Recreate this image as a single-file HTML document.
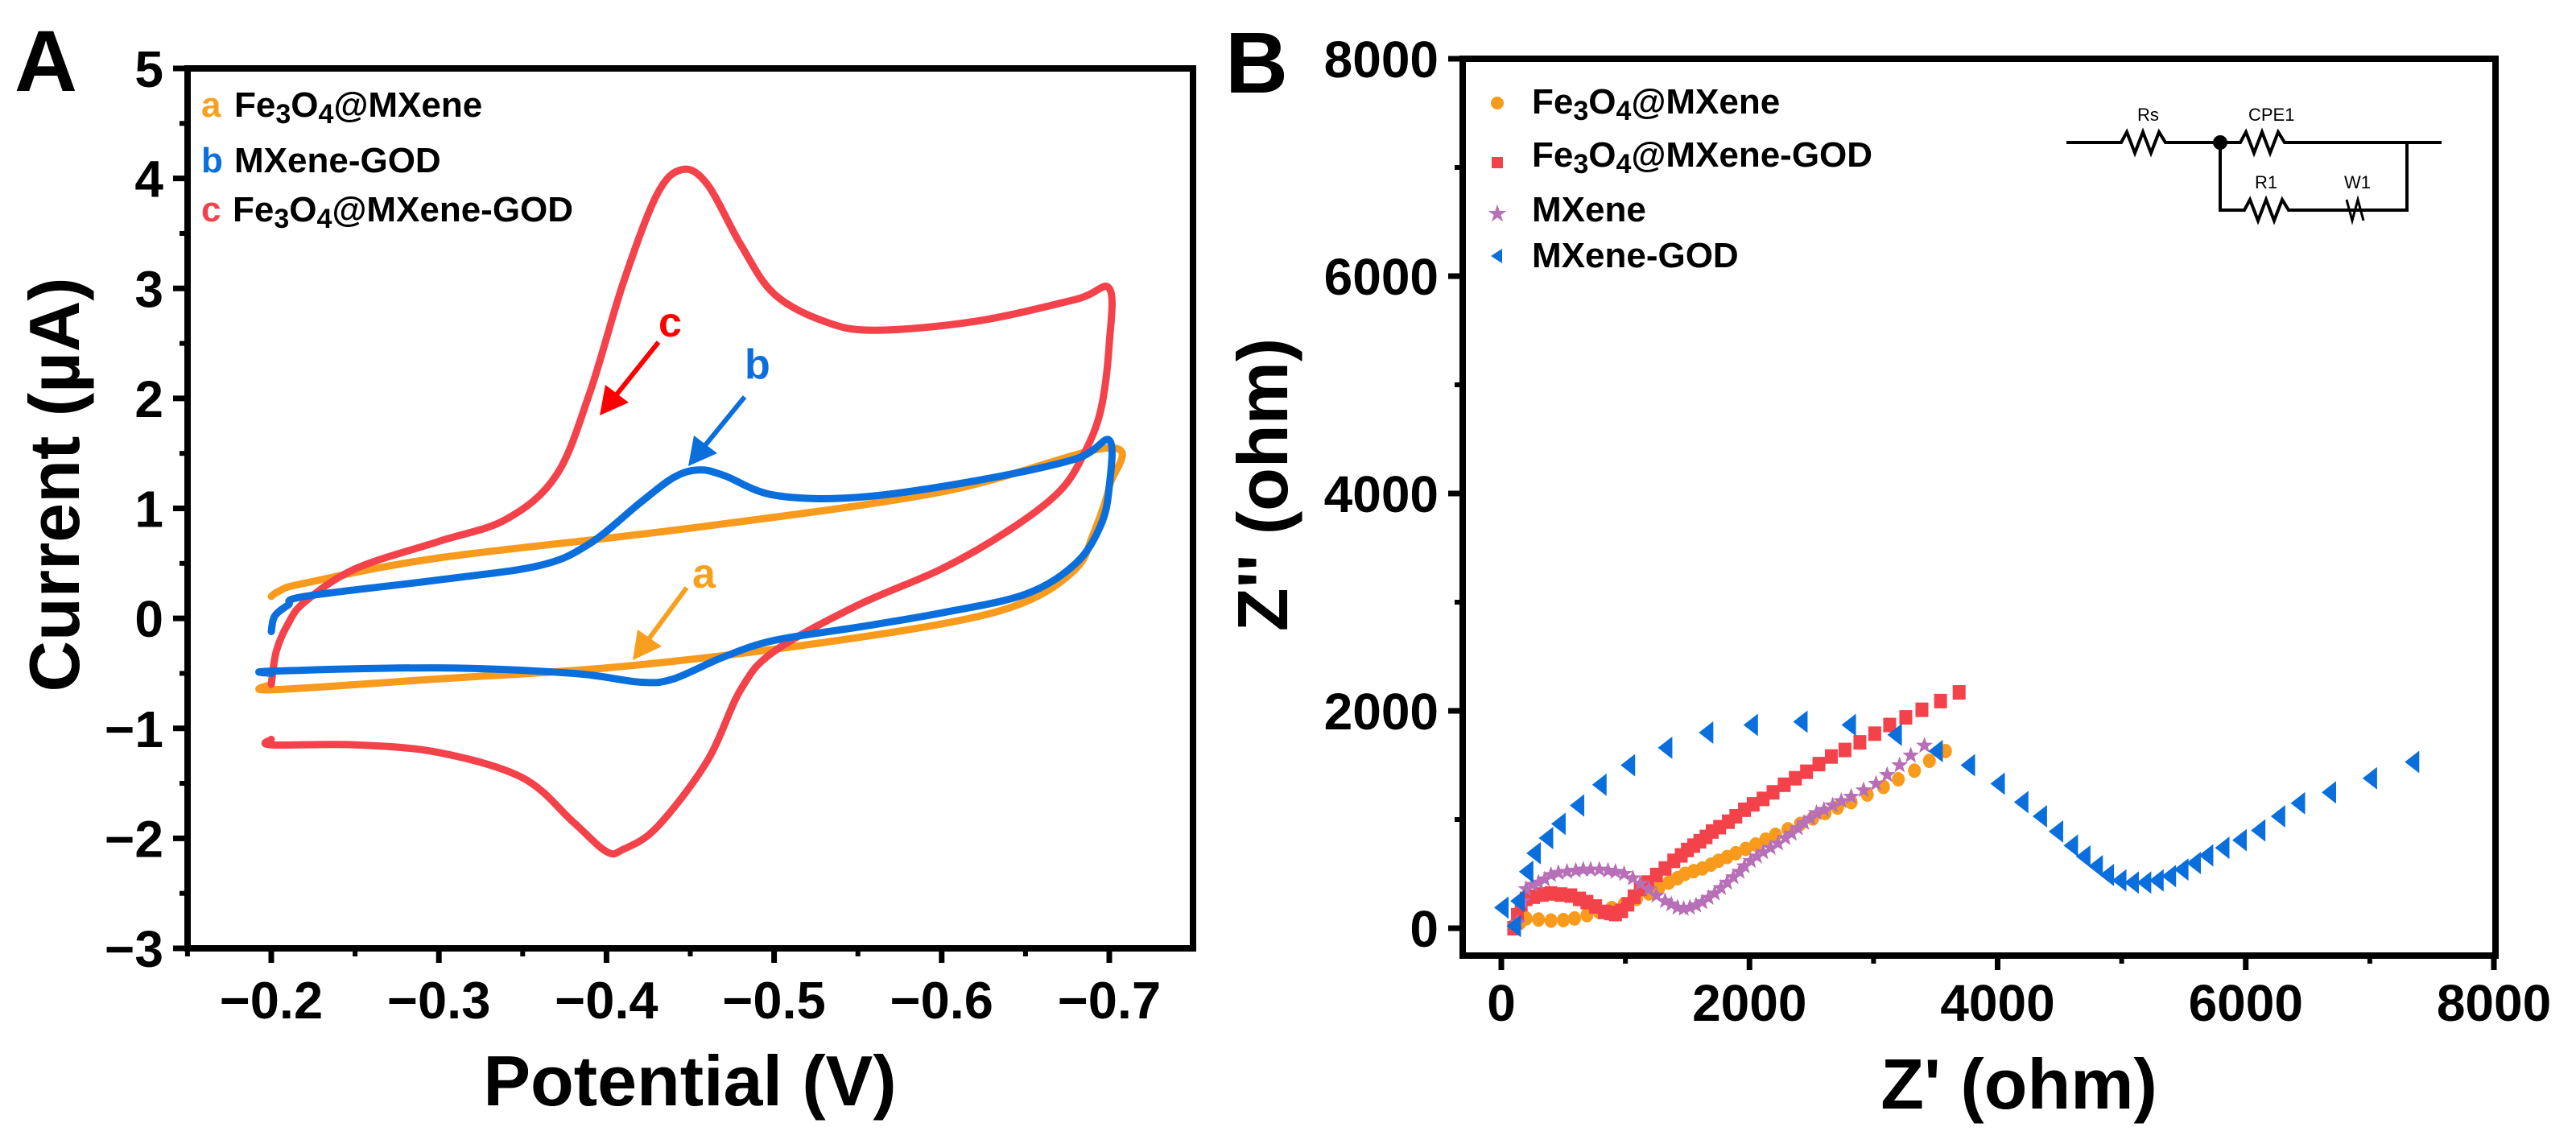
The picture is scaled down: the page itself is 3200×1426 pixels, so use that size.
<!DOCTYPE html>
<html><head><meta charset="utf-8"><style>
html,body{margin:0;padding:0;background:#fff;}
svg{display:block;font-family:"Liberation Sans",Arial,sans-serif;font-weight:bold;}
</style></head><body>
<svg id="fig" width="3200" height="1426" viewBox="0 0 3200 1426" xmlns="http://www.w3.org/2000/svg">
<rect width="3200" height="1426" fill="#fff"/>
<g id="panelA"></g>
<g id="panelB"></g>
</svg>
<script>
// ---------- Panel A data (Potential V, Current uA) ----------
const cvOrangeX=[-0.2,-0.205,-0.22,-0.3,-0.45,-0.6,-0.7,-0.7,-0.69,-0.68,-0.65,-0.6,-0.5,-0.4,-0.3,-0.2,-0.2];
const cvOrangeY=[0.2,0.25,0.32,0.55,0.82,1.15,1.55,1.2,0.75,0.45,0.15,-0.05,-0.28,-0.45,-0.55,-0.65,-0.6];
const cvBlueX=[-0.2,-0.202,-0.21,-0.22,-0.3,-0.36,-0.39,-0.42,-0.44,-0.455,-0.47,-0.5,-0.55,-0.62,-0.68,-0.7,-0.7,-0.695,-0.68,-0.65,-0.6,-0.55,-0.5,-0.47,-0.44,-0.42,-0.38,-0.3,-0.2,-0.2];
const cvBlueY=[-0.12,0.02,0.12,0.2,0.35,0.48,0.68,1.05,1.28,1.35,1.3,1.12,1.1,1.25,1.45,1.62,1.2,0.85,0.5,0.22,0.05,-0.08,-0.2,-0.35,-0.55,-0.58,-0.5,-0.45,-0.48,-0.5];
const cvRedX=[-0.2,-0.203,-0.21,-0.22,-0.25,-0.3,-0.34,-0.37,-0.39,-0.41,-0.43,-0.445,-0.46,-0.48,-0.5,-0.53,-0.56,-0.62,-0.68,-0.7,-0.7,-0.695,-0.685,-0.67,-0.64,-0.6,-0.55,-0.5,-0.48,-0.46,-0.43,-0.41,-0.4,-0.38,-0.35,-0.3,-0.25,-0.2,-0.2];
const cvRedY=[-0.6,-0.3,-0.05,0.15,0.45,0.7,0.9,1.3,2.05,3.05,3.85,4.08,3.95,3.4,2.95,2.7,2.62,2.7,2.9,3.0,2.5,1.9,1.5,1.15,0.8,0.45,0.12,-0.3,-0.65,-1.3,-1.9,-2.1,-2.12,-1.85,-1.45,-1.22,-1.15,-1.15,-1.1];
const aXTicks=[-0.2,-0.3,-0.4,-0.5,-0.6,-0.7];
const aXTickLabels=["\u22120.2","\u22120.3","\u22120.4","\u22120.5","\u22120.6","\u22120.7"];
const aYTicks=[5,4,3,2,1,0,-1,-2,-3];
const aYTickLabels=["5","4","3","2","1","0","\u22121","\u22122","\u22123"];

// ---------- Panel B data (Z' ohm, Z'' ohm) ----------
const eisBlueX=[0,100,130,200,260,360,460,610,790,1020,1320,1650,2010,2410,2800,3170,3500,3760,4000,4190,4340,4470,4590,4690,4790,4880,4980,5080,5180,5280,5380,5480,5580,5680,5810,5950,6100,6260,6420,6670,7000,7340];
const eisBlueY=[190,20,250,520,690,830,960,1130,1320,1500,1660,1800,1870,1900,1870,1780,1630,1500,1330,1160,1030,890,760,660,570,490,440,420,420,440,480,540,600,670,740,810,900,1030,1150,1250,1380,1530];
const eisRedX=[100,130,160,200,260,330,400,480,560,630,690,760,830,880,920,970,1020,1070,1120,1180,1250,1320,1390,1450,1500,1550,1600,1650,1700,1760,1830,1890,1960,2030,2110,2190,2280,2370,2460,2560,2660,2770,2890,3010,3130,3260,3390,3540,3690];
const eisRedY=[0,120,220,270,290,310,320,310,300,270,240,200,150,140,130,160,220,290,360,420,490,550,620,670,720,760,800,840,890,930,980,1030,1090,1140,1190,1250,1320,1380,1440,1510,1580,1640,1710,1790,1870,1940,2010,2090,2170];
const eisOrangeX=[100,150,200,300,400,500,590,690,790,890,990,1090,1190,1270,1350,1420,1480,1550,1620,1690,1750,1820,1890,1970,2050,2130,2210,2310,2410,2510,2610,2710,2820,2950,3080,3200,3330,3450,3580];
const eisOrangeY=[0,50,90,80,70,75,90,120,150,185,220,270,320,370,420,460,500,525,550,585,620,655,690,730,770,815,860,910,960,1010,1060,1110,1160,1230,1300,1370,1450,1540,1630];
const eisPurpleX=[130,170,200,250,300,350,400,460,530,600,660,720,790,860,920,990,1060,1120,1190,1250,1320,1370,1420,1470,1520,1570,1620,1670,1720,1770,1820,1870,1920,1960,2010,2060,2110,2170,2230,2290,2340,2390,2440,2490,2540,2600,2670,2740,2820,2920,3020,3110,3210,3300,3410];
const eisPurpleY=[50,250,360,400,420,450,490,510,520,530,540,540,540,530,520,500,460,410,360,300,250,220,190,180,190,210,240,280,320,370,420,470,520,570,620,660,700,740,780,830,870,920,970,1010,1060,1090,1130,1170,1210,1270,1330,1410,1500,1590,1680];
const bTicks=[0,2000,4000,6000,8000];
const bTickLabels=["0","2000","4000","6000","8000"];

const NS="http://www.w3.org/2000/svg";
function mk(parent,tag,attrs,text){const e=document.createElementNS(NS,tag);for(const k in attrs)e.setAttribute(k,attrs[k]);if(text!==undefined)e.textContent=text;parent.appendChild(e);return e;}

// ---------- Panel A ----------
const A=document.getElementById('panelA');
const aL=233,aR=1482,aT=85,aB=1178;
const ax=v=>337+(v-(-0.2))/(-0.1)*208.2;
const ay=v=>aT+(5-v)*(aB-aT)/8;
function cvPath(xs,ys){
  const P=xs.map((x,i)=>[ax(x),ay(ys[i])]);
  let d='M'+P[0][0].toFixed(1)+','+P[0][1].toFixed(1);
  const t=0.5/3;
  for(let i=0;i<P.length-1;i++){
    const p0=P[Math.max(i-1,0)],p1=P[i],p2=P[i+1],p3=P[Math.min(i+2,P.length-1)];
    const c1=[p1[0]+(p2[0]-p0[0])*t,p1[1]+(p2[1]-p0[1])*t];
    const c2=[p2[0]-(p3[0]-p1[0])*t,p2[1]-(p3[1]-p1[1])*t];
    d+=' C'+c1[0].toFixed(1)+','+c1[1].toFixed(1)+' '+c2[0].toFixed(1)+','+c2[1].toFixed(1)+' '+p2[0].toFixed(1)+','+p2[1].toFixed(1);
  }
  return d;
}
let p;
p=mk(A,'path',{d:cvPath(cvOrangeX,cvOrangeY),fill:'none',stroke:'#f89b1c','stroke-width':9,'stroke-linejoin':'round','stroke-linecap':'round'});


p=mk(A,'path',{d:cvPath(cvRedX,cvRedY),fill:'none',stroke:'#f4424b','stroke-width':9,'stroke-linejoin':'round','stroke-linecap':'round'});


p=mk(A,'path',{d:cvPath(cvBlueX,cvBlueY),fill:'none',stroke:'#0a6fdd','stroke-width':9,'stroke-linejoin':'round','stroke-linecap':'round'});


let fr=mk(A,'rect',{x:aL,y:aT,width:aR-aL,height:aB-aT,fill:'none',stroke:'#000','stroke-width':8});


aYTicks.forEach((v,i)=>{
  const y=ay(v);
  mk(A,'line',{x1:aL-18,x2:aL,y1:y,y2:y,stroke:'#000','stroke-width':7});
  const t=mk(A,'text',{x:aL-30,y:y+23,'font-size':64,'text-anchor':'end'},aYTickLabels[i]);
  
  
  if(v>-3){const ym=ay(v-0.5);mk(A,'line',{x1:aL-10,x2:aL,y1:ym,y2:ym,stroke:'#000','stroke-width':6});}
});
aXTicks.forEach((v,i)=>{
  const x=ax(v);
  mk(A,'line',{x1:x,x2:x,y1:aB,y2:aB+18,stroke:'#000','stroke-width':7});
  const t=mk(A,'text',{x:x,y:1265,'font-size':65,'text-anchor':'middle'},aXTickLabels[i]);
  
  
});
[-0.15,-0.25,-0.35,-0.45,-0.55,-0.65].forEach(v=>{const x=ax(v);mk(A,'line',{x1:x,x2:x,y1:aB,y2:aB+10,stroke:'#000','stroke-width':6});});
</script>
<svg style="position:absolute;left:0;top:0" width="3200" height="1426" viewBox="0 0 3200 1426" xmlns="http://www.w3.org/2000/svg" font-family="Liberation Sans, Arial, sans-serif" font-weight="bold">
<text x="18" y="113" font-size="108">A</text>
<text x="1522" y="115" font-size="108">B</text>
<text transform="translate(98,602) rotate(-90)" font-size="88" text-anchor="middle">Current (µA)</text>
<text x="857" y="1373" font-size="88" text-anchor="middle">Potential (V)</text>
<text transform="translate(1599,602) rotate(-90)" font-size="88" text-anchor="middle">Z'' (ohm)</text>
<text x="2508" y="1377" font-size="88" text-anchor="middle">Z' (ohm)</text>
<g font-size="44">
 <g><text x="250" y="145" fill="#f8a01e">a</text><text x="291" y="145">Fe<tspan font-size="34" dy="8">3</tspan><tspan dy="-8">O</tspan><tspan font-size="34" dy="8">4</tspan><tspan dy="-8">@MXene</tspan></text></g>
 <g><text x="250" y="214" fill="#0a6fdd">b</text><text x="291" y="214">MXene-GOD</text></g>
 <g><text x="250" y="275" fill="#f4424b">c</text><text x="289" y="275">Fe<tspan font-size="34" dy="8">3</tspan><tspan dy="-8">O</tspan><tspan font-size="34" dy="8">4</tspan><tspan dy="-8">@MXene-GOD</tspan></text></g>
</g>
<g><text x="818" y="418" font-size="52" fill="#f00">c</text><line x1="818" y1="425" x2="762" y2="495" stroke="#f00" stroke-width="6"/><polygon points="745,516 752,478 781,500" fill="#f00"/></g>
<g><text x="925" y="470" font-size="52" fill="#0a6fdd">b</text><line x1="925" y1="493" x2="872" y2="558" stroke="#0a6fdd" stroke-width="6"/><polygon points="855,579 862,541 891,563" fill="#0a6fdd"/></g>
<g><text x="860" y="730" font-size="52" fill="#f8a01e">a</text><line x1="853" y1="730" x2="802" y2="799" stroke="#f8a01e" stroke-width="6"/><polygon points="786,820 792,782 822,803" fill="#f8a01e"/></g>
<g font-size="44">
 <g><circle cx="1860" cy="128" r="8" fill="#f89b1c"/><text x="1903" y="141">Fe<tspan font-size="34" dy="8">3</tspan><tspan dy="-8">O</tspan><tspan font-size="34" dy="8">4</tspan><tspan dy="-8">@MXene</tspan></text></g>
 <g><rect x="1853" y="195" width="14" height="14" fill="#f4424b"/><text x="1903" y="207">Fe<tspan font-size="34" dy="8">3</tspan><tspan dy="-8">O</tspan><tspan font-size="34" dy="8">4</tspan><tspan dy="-8">@MXene-GOD</tspan></text></g>
 <g><text x="1860" y="274" font-size="26" fill="#b76fb7" text-anchor="middle">★</text><text x="1903" y="275">MXene</text></g>
 <g><polygon points="1852,318 1866,309 1866,327" fill="#0a6fdd"/><text x="1903" y="332">MXene-GOD</text></g>
</g>
<g stroke="#000" stroke-width="4" fill="none">
 <polyline points="2567,177 2635,177 2642,164 2652,190 2662,164 2672,190 2682,164 2690,177 2783,177 2790,164 2800,190 2810,164 2820,190 2830,164 2838,177 3033,177"/>
 <polyline points="2758,177 2758,261 2788,261 2795,248 2805,274 2815,248 2825,274 2835,248 2843,261 2990,261 2990,177"/>
 <polyline points="2915,248 2922,274 2929,248 2936,274" stroke-width="3"/>
 <circle cx="2758" cy="177" r="7" fill="#000"/>
 <g stroke="none" fill="#000" font-size="22" font-weight="normal">
  <text x="2655" y="150">Rs</text><text x="2793" y="150">CPE1</text><text x="2801" y="234">R1</text><text x="2912" y="234">W1</text>
 </g>
</g>
</svg>
<script>
// ---------- Panel B ----------
(function(){
const B=document.getElementById('panelB');
const bL=1817,bR=3100,bT=73,bB=1187;
const bx=v=>1865+v*(3098-1865)/8000;
const by=v=>1153-v*(1153-bT)/8000;
function draw(xs,ys,kind,color,name){
  const g=mk(B,'g',{fill:color});
  
  
  xs.forEach((xv,i)=>{
    const x=bx(xv),y=by(ys[i]);let m;
    if(kind==='tri') m=mk(g,'polygon',{points:`${x-9},${y} ${x+9},${y-14} ${x+9},${y+14}`});
    else if(kind==='sq') m=mk(g,'rect',{x:x-8,y:y-9,width:16,height:18});
    else if(kind==='circ') m=mk(g,'ellipse',{cx:x,cy:y,rx:8,ry:9});
    else {const pts=[];for(let k=0;k<10;k++){const r=k%2?4.5:11;const a=-Math.PI/2+k*Math.PI/5;pts.push((x+r*Math.cos(a)).toFixed(1)+','+(y+r*Math.sin(a)).toFixed(1));}m=mk(g,'polygon',{points:pts.join(' ')});}
    
    
  });
}
draw(eisOrangeX,eisOrangeY,'circ','#f89b1c','series-fe3o4-mxene');
draw(eisRedX,eisRedY,'sq','#f4424b','series-fe3o4-mxene-god');
draw(eisPurpleX,eisPurpleY,'star','#b76fb7','series-mxene');
draw(eisBlueX,eisBlueY,'tri','#0a6fdd','series-mxene-god');
const fr=mk(B,'rect',{x:bL,y:bT,width:bR-bL,height:bB-bT,fill:'none',stroke:'#000','stroke-width':8});


bTicks.forEach((v,i)=>{
  const y=by(v);
  mk(B,'line',{x1:bL-18,x2:bL,y1:y,y2:y,stroke:'#000','stroke-width':7});
  let t=mk(B,'text',{x:bL-30,y:y+23,'font-size':64,'text-anchor':'end'},bTickLabels[i]);
  
  
  const x=bx(v);
  mk(B,'line',{x1:x,x2:x,y1:bB,y2:bB+18,stroke:'#000','stroke-width':7});
  t=mk(B,'text',{x:x,y:1268,'font-size':64,'text-anchor':'middle'},bTickLabels[i]);
  
  
  if(v<8000){const ym=by(v+1000),xm=bx(v+1000);
    mk(B,'line',{x1:bL-10,x2:bL,y1:ym,y2:ym,stroke:'#000','stroke-width':6});
    mk(B,'line',{x1:xm,x2:xm,y1:bB,y2:bB+10,stroke:'#000','stroke-width':6});}
});
})();
</script>
</body></html>
